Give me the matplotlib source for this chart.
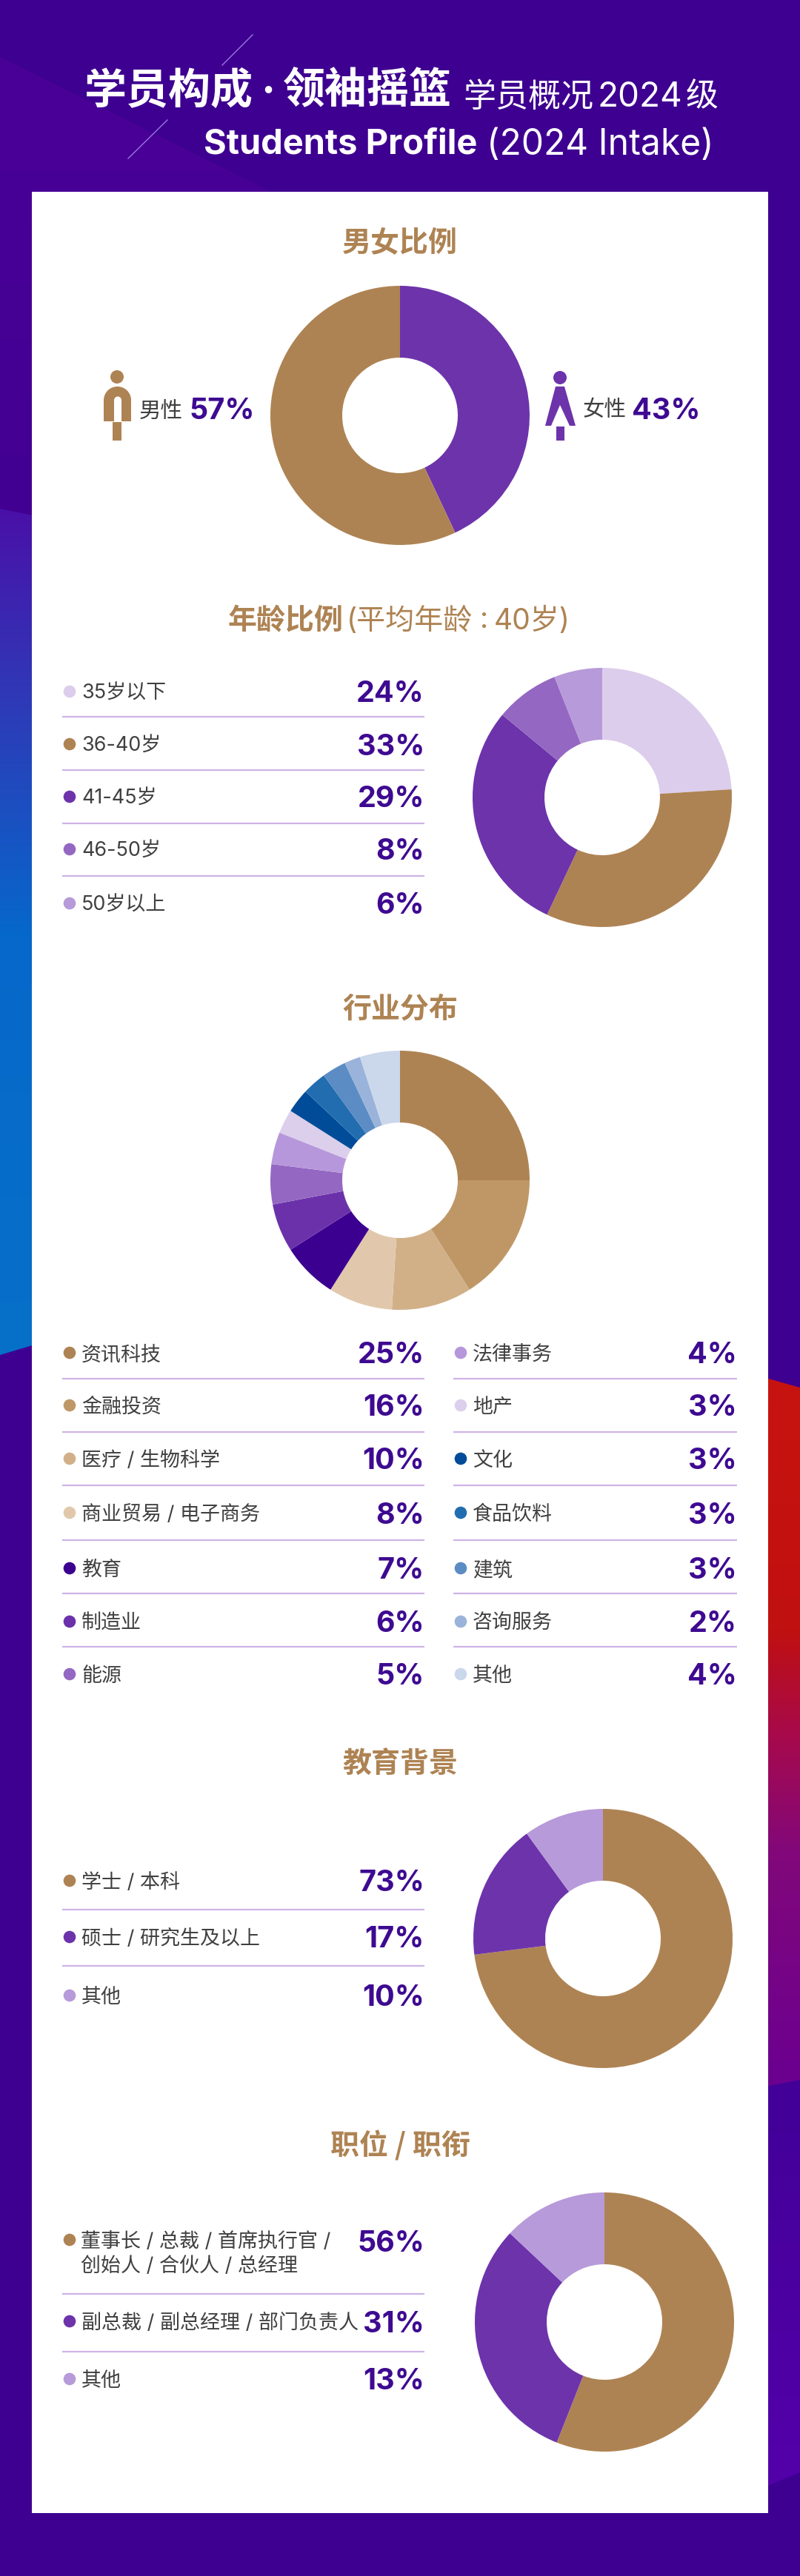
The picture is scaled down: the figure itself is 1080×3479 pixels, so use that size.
import numpy as np
import matplotlib
matplotlib.use('Agg')
import matplotlib.pyplot as plt
from matplotlib.colors import to_rgb
from matplotlib.patches import Circle, Polygon, Rectangle, Wedge

plt.rcParams['font.family'] = ['Noto Sans CJK SC', 'DejaVu Sans']

W, H = 1080, 3480
NUM_FONT = ['Inter', 'Noto Sans CJK SC']
CJK_FONT = ['Noto Sans CJK SC', 'DejaVu Sans']

BROWN = '#ae8353'
PURPLE = '#6d33ab'
MID = '#9468c2'
LIGHT = '#b79ad9'
PALE = '#dccdec'
DARK = '#3e0a91'
TEXT = '#404040'
RULE = '#cfb3e6'

# data
gender_labels = ['女性', '男性']
gender_values = [43, 57]
gender_colors = [PURPLE, BROWN]

age_labels = ['35岁以下', '36-40岁', '41-45岁', '46-50岁', '50岁以上']
age_values = [24, 33, 29, 8, 6]
age_colors = [PALE, BROWN, PURPLE, MID, LIGHT]

industry_labels = ['资讯科技', '金融投资', '医疗 / 生物科学', '商业贸易 / 电子商务', '教育', '制造业', '能源',
                   '法律事务', '地产', '文化', '食品饮料', '建筑', '咨询服务', '其他']
industry_values = [25, 16, 10, 8, 7, 6, 5, 4, 3, 3, 3, 3, 2, 4]
# the last slice is drawn a bit wider than its printed 4%
industry_slices = [25, 16, 10, 8, 7, 6, 5, 4, 3, 3, 3, 3, 2, 5]
industry_colors = ['#ae8353', '#bf9767', '#d1b088', '#e1c8ac', '#3c0090', '#6b31aa', '#9468c2',
                   '#b797db', '#dccfec', '#004c99', '#226db0', '#5c8cc4', '#9ab3da', '#cbd7eb']

edu_labels = ['学士 / 本科', '硕士 / 研究生及以上', '其他']
edu_values = [73, 17, 10]
edu_colors = [BROWN, PURPLE, LIGHT]

job_labels = ['董事长 / 总裁 / 首席执行官 /\n创始人 / 合伙人 / 总经理', '副总裁 / 副总经理 / 部门负责人', '其他']
job_values = [56, 31, 13]
job_colors = [BROWN, PURPLE, LIGHT]

fig = plt.figure(figsize=(W / 100, H / 100), dpi=100)
bg = fig.add_axes([0, 0, 1, 1])
bg.set_axis_off()


def grad_poly(pts, stops):
    # vertical gradient clipped to a polygon, stops are (y, colour)
    ys = np.arange(H)
    sy = [s[0] for s in stops]
    rgb = np.array([to_rgb(s[1]) for s in stops])
    img = np.stack([np.interp(ys, sy, rgb[:, i]) for i in range(3)], axis=1)[:, None, :]
    im = bg.imshow(img, extent=(0, W, H, 0), aspect='auto', zorder=1)
    im.set_clip_path(Polygon(pts, closed=True, transform=bg.transData))


def px(size):
    # font size given in pixels
    return size * 72 / 100


def txt(x, y, s, size, color=TEXT, ha='left', weight='normal', family=None):
    bg.text(x, y, s, fontsize=px(size), color=color, ha=ha, va='center', fontweight=weight,
            family=family or NUM_FONT, zorder=5, linespacing=1.15)


def donut(cx, cy, values, colors, r=175):
    a = fig.add_axes([(cx - r) / W, 1 - (cy + r) / H, 2 * r / W, 2 * r / H])
    a.pie(values, colors=colors, startangle=90, counterclock=False, radius=1,
          wedgeprops=dict(width=1 - 78 / 175, linewidth=0))
    a.set_xlim(-1, 1)
    a.set_ylim(-1, 1)
    a.patch.set_alpha(0)


def rows(labels, values, colors, ys, rule_ys, x0=84, x1=573, val_ys=None):
    for i, (lab, v, c) in enumerate(zip(labels, values, colors)):
        y = ys[i]
        bg.add_patch(Circle((x0 + 10, y), 8.3, color=c, lw=0, zorder=4))
        if '\n' in lab:
            first, second = lab.split('\n')
            txt(x0 + 25, y + 2, first, 27)
            txt(x0 + 25, y + 35, second, 27)
        else:
            txt(x0 + 26, y + 2, lab, 27)
        vy = y if val_ys is None else val_ys[i]
        txt(x1, vy + 3, f'{v}%', 39.5, color=DARK, ha='right', weight='bold')
    for ry in rule_ys:
        bg.plot([x0, x1], [ry, ry], color=RULE, lw=1.6, solid_capstyle='butt', zorder=4)


# background
bg.add_patch(Rectangle((0, 0), W, H, color='#3e0090', lw=0, zorder=0))
grad_poly([(0, 78), (370, 262), (43, 700), (0, 690)], [(78, '#4a0098'), (690, '#420092')])
grad_poly([(0, 688), (60, 700), (60, 1813), (0, 1831)],
          [(688, '#4a10a8'), (950, '#2e3ab8'), (1265, '#0668cb'), (1830, '#0670c8')])
grad_poly([(1020, 1858), (1080, 1875), (1080, 2810), (1020, 2822)],
          [(1860, '#c8140f'), (2200, '#c0100f'), (2340, '#a80a4a'), (2500, '#82087a'), (2810, '#6b0090')])
grad_poly([(1020, 2822), (1080, 2810), (1080, 3340), (1020, 3365)],
          [(2820, '#420098'), (3300, '#5200a8')])
bg.add_patch(Rectangle((43, 260), 994, 3135, color='white', lw=0, zorder=2))

# header
bg.plot([341, 300], [48, 89], color='#9a78e0', lw=1.0, zorder=3)
bg.plot([226, 173], [163, 215], color='#9a78e0', lw=1.0, zorder=3)
txt(114, 124, '学员构成', 57, color='white', weight='bold')
txt(362, 126, '·', 57, color='white', ha='center', weight='bold')
txt(382, 124, '领袖摇篮', 57, color='white', weight='bold')
txt(625, 132, '学员概况', 44, color='white')
txt(807, 132, '2024', 46, color='white')
txt(926, 132, '级', 44, color='white')
txt(644, 196, 'Students Profile', 47, color='white', ha='right', weight='bold')
txt(964, 196, '(2024 Intake)', 48, color='white', ha='right')

# gender
txt(540, 329, '男女比例', 39, color=BROWN, ha='center', weight='bold', family=CJK_FONT)
donut(540, 562, gender_values, gender_colors)

# male icon
bg.add_patch(Circle((158, 510), 9, color=BROWN, lw=0, zorder=4))
bg.add_patch(Wedge((158.5, 541.5), 18.5, 180, 360, color=BROWN, lw=0, zorder=4))
bg.add_patch(Rectangle((140, 541), 37, 29, color=BROWN, lw=0, zorder=4))
bg.add_patch(Wedge((159, 541.5), 5, 180, 360, color='white', lw=0, zorder=4))
bg.add_patch(Rectangle((154, 541), 10, 29, color='white', lw=0, zorder=4))
bg.add_patch(Rectangle((152, 571), 12, 25, color=BROWN, lw=0, zorder=4))

# female icon
bg.add_patch(Circle((756, 511), 9, color=PURPLE, lw=0, zorder=4))
bg.add_patch(Polygon([(750, 523), (762, 523), (777, 576), (736, 576)], color=PURPLE, lw=0, zorder=4))
bg.add_patch(Polygon([(756, 548), (769, 576), (744, 576)], color='white', lw=0, zorder=4))
bg.add_patch(Rectangle((751, 577), 11, 19, color=PURPLE, lw=0, zorder=4))

txt(188, 556, gender_labels[1], 29.5)
txt(255, 556, f'{gender_values[1]}%', 39.5, color=DARK, weight='bold')
txt(787, 554, gender_labels[0], 29.5)
txt(853, 555, f'{gender_values[0]}%', 39.5, color=DARK, weight='bold')

# age
txt(308, 839, '年龄比例', 39, color=BROWN, weight='bold', family=CJK_FONT)
txt(468, 839, '(平均年龄', 39, color=BROWN)
txt(654, 837, ':', 39, color=BROWN, ha='center')
txt(667, 839, '40岁)', 39, color=BROWN)
rows(age_labels, age_values, age_colors, [935, 1006, 1077, 1148, 1221], [969, 1041, 1113, 1184])
donut(813, 1078, age_values, age_colors)

# industry
txt(540, 1363, '行业分布', 39, color=BROWN, ha='center', weight='bold', family=CJK_FONT)
donut(540, 1595, industry_slices, industry_colors)
ind_ys = [1828, 1899, 1971, 2044, 2119, 2191, 2262]
ind_rules = [1863, 1935, 2007, 2081, 2153, 2225]
rows(industry_labels[:7], industry_values[:7], industry_colors[:7], ind_ys, ind_rules)
rows(industry_labels[7:], industry_values[7:], industry_colors[7:], ind_ys, ind_rules, x0=612, x1=995)

# education
txt(540, 2383, '教育背景', 39, color=BROWN, ha='center', weight='bold', family=CJK_FONT)
rows(edu_labels, edu_values, edu_colors, [2541, 2617, 2696], [2580, 2656])
donut(814, 2619, edu_values, edu_colors)

# position
txt(540, 2899, '职位 / 职衔', 39, color=BROWN, ha='center', weight='bold', family=CJK_FONT)
rows(job_labels, job_values, job_colors, [3026, 3136, 3214], [3099, 3177], val_ys=[3028, 3137, 3214])
donut(816, 3137, job_values, job_colors)

bg.set_xlim(0, W)
bg.set_ylim(H, 0)

fig.savefig('out.png', dpi=100)
